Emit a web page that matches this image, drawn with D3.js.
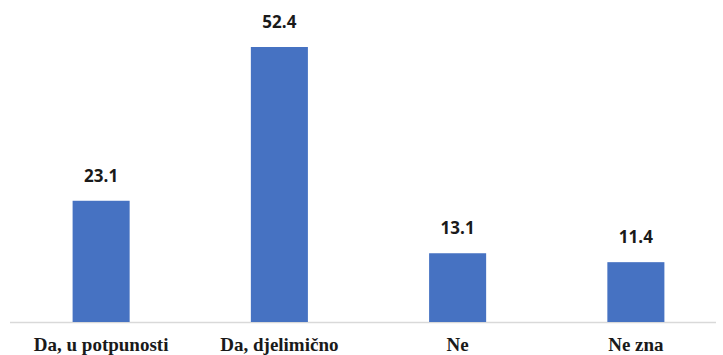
<!DOCTYPE html>
<html>
<head>
<meta charset="utf-8">
<script src="https://cdn.jsdelivr.net/npm/d3@7"></script>
</head>
<body style="margin:0">
<svg id="chart" width="723" height="355"></svg>
<script>
// Survey answers and their shares (%)
const categories = ["Da, u potpunosti", "Da, djelimično", "Ne", "Ne zna"];
const values = [23.1, 52.4, 13.1, 11.4];

const baseline = 322;

const svg = d3.select("#chart");

const x = d3.scaleBand()
  .domain(categories)
  .range([12, 725])
  .paddingInner(0.68)
  .paddingOuter(0.34);

const y = d3.scaleLinear()
  .domain([0, 52.4])
  .range([baseline, 47]);

// axis line
svg.append("line")
  .attr("x1", 10).attr("x2", 716)
  .attr("y1", baseline + 0.5).attr("y2", baseline + 0.5)
  .attr("stroke", "#d9d9d9").attr("stroke-width", 1.5);

const data = categories.map((c, i) => ({ c, v: values[i] }));

const bars = svg.append("g");
bars.selectAll("rect")
  .data(data)
  .join("rect")
  .attr("x", d => x(d.c))
  .attr("width", x.bandwidth())
  .attr("y", d => y(d.v))
  .attr("height", d => baseline - y(d.v))
  .attr("fill", "#4672c2");

// value labels above the bars
const vals = svg.append("g");
vals.selectAll("text")
  .data(data)
  .join("text")
  .attr("x", d => x(d.c) + x.bandwidth() / 2)
  .attr("y", d => y(d.v) - 19)
  .style("text-anchor", "middle")
  .style("font-family", '"Open Sans"')
  .style("font-weight", "bold")
  .style("font-size", "17px")
  .style("fill", "#1a1a1a")
  .text(d => d.v.toFixed(1));

// category labels
const cats = svg.append("g");
cats.selectAll("text")
  .data(data)
  .join("text")
  .attr("x", d => x(d.c) + x.bandwidth() / 2)
  .attr("y", 351)
  .style("text-anchor", "middle")
  .style("font-family", '"Liberation Serif"')
  .style("font-weight", "bold")
  .style("font-size", "19px")
  .style("fill", "#1a1a1a")
  .text(d => d.c);
</script>
</body>
</html>
